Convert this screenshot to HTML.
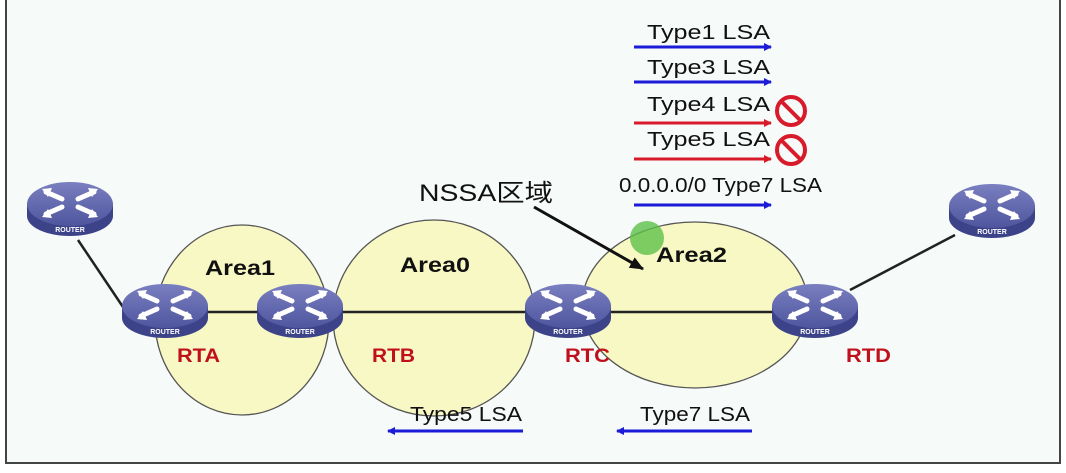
<!DOCTYPE html>
<html><head><meta charset="utf-8"><style>
html,body{margin:0;padding:0;background:#fff;}
svg{display:block;}
text{font-family:"Liberation Sans","Noto Sans CJK SC",sans-serif;}
</style></head><body>
<svg width="1066" height="473" viewBox="0 0 1066 473" xmlns="http://www.w3.org/2000/svg">
<defs>
<linearGradient id="rt" x1="0" y1="0" x2="0" y2="1"><stop offset="0" stop-color="#7a7fc0"/><stop offset="1" stop-color="#4f569e"/></linearGradient>
<marker id="ab" markerWidth="8" markerHeight="8" refX="7" refY="4" orient="auto" markerUnits="userSpaceOnUse"><path d="M0,0 L8,4 L0,8z" fill="#1b1bd8"/></marker>
<marker id="ar" markerWidth="8" markerHeight="8" refX="7" refY="4" orient="auto" markerUnits="userSpaceOnUse"><path d="M0,0 L8,4 L0,8z" fill="#d81b2a"/></marker>
<marker id="ak" markerWidth="14" markerHeight="12" refX="13" refY="6" orient="auto" markerUnits="userSpaceOnUse"><path d="M0,0 L14,6 L0,12z" fill="#111"/></marker>
<g id="router">
<path d="M-43,0 L-43,12 A43,20 0 0 0 43,12 L43,0z" fill="#3c4389"/>
<ellipse cx="0" cy="0" rx="43" ry="22" fill="url(#rt)"/>
<g stroke="#fff" stroke-width="5" fill="none" stroke-linecap="round">
<path d="M-24,-12 L-8,-5"/><path d="M24,-12 L8,-5"/><path d="M-24,10 L-8,3"/><path d="M24,10 L8,3"/>
</g>
<g fill="#fff"><path d="M-28,-15 L-18,-16 L-22,-7z"/><path d="M28,-15 L18,-16 L22,-7z"/><path d="M-28,13 L-18,14 L-22,5z"/><path d="M28,13 L18,14 L22,5z"/></g>
<text x="0" y="28" font-size="7" font-weight="bold" fill="#fff" text-anchor="middle">ROUTER</text>
</g>
</defs>
<rect x="0" y="0" width="1066" height="473" fill="#fff"/>
<rect x="6" y="-5" width="1054" height="468" fill="#f6faf8" stroke="#444" stroke-width="2"/>
<g fill="#f8f8c4" stroke="#555" stroke-width="1.3">
<ellipse cx="242" cy="320" rx="87" ry="95"/>
<ellipse cx="434" cy="318" rx="101" ry="98"/>
<ellipse cx="695" cy="305" rx="113" ry="83"/>
</g>
<g stroke="#222" stroke-width="2.5">
<line x1="78" y1="240" x2="125" y2="310"/>
<line x1="165" y1="312" x2="815" y2="312"/>
<line x1="850" y1="290" x2="955" y2="235"/>
</g>
<use href="#router" x="70" y="204"/>
<use href="#router" x="165" y="306"/>
<use href="#router" x="300" y="306"/>
<use href="#router" x="568" y="306"/>
<use href="#router" x="815" y="306"/>
<use href="#router" x="992" y="206"/>
<g font-weight="bold" font-size="21" fill="#111">
<text x="205" y="275" textLength="70" lengthAdjust="spacingAndGlyphs">Area1</text>
<text x="400" y="272" textLength="70" lengthAdjust="spacingAndGlyphs">Area0</text>
<text x="656" y="262" textLength="71" lengthAdjust="spacingAndGlyphs">Area2</text>
</g>
<g font-weight="bold" font-size="19" fill="#c0101c">
<text x="177" y="362" textLength="43" lengthAdjust="spacingAndGlyphs">RTA</text>
<text x="372" y="362" textLength="43" lengthAdjust="spacingAndGlyphs">RTB</text>
<text x="565" y="362" textLength="45" lengthAdjust="spacingAndGlyphs">RTC</text>
<text x="846" y="362" textLength="45" lengthAdjust="spacingAndGlyphs">RTD</text>
</g>
<circle cx="647" cy="238" r="17" fill="#5cc04a" opacity="0.8"/>
<text x="419" y="201" font-size="24" fill="#111" textLength="134" lengthAdjust="spacingAndGlyphs">NSSA区域</text>
<line x1="534" y1="207" x2="643" y2="269" stroke="#111" stroke-width="3" marker-end="url(#ak)"/>
<g font-size="20" fill="#111">
<text x="647" y="39" textLength="123" lengthAdjust="spacingAndGlyphs">Type1 LSA</text>
<text x="647" y="74" textLength="123" lengthAdjust="spacingAndGlyphs">Type3 LSA</text>
<text x="647" y="111" textLength="123" lengthAdjust="spacingAndGlyphs">Type4 LSA</text>
<text x="647" y="146" textLength="123" lengthAdjust="spacingAndGlyphs">Type5 LSA</text>
<text x="619" y="192" textLength="203" lengthAdjust="spacingAndGlyphs">0.0.0.0/0 Type7 LSA</text>
<text x="410" y="421" textLength="112" lengthAdjust="spacingAndGlyphs">Type5 LSA</text>
<text x="640" y="421" textLength="110" lengthAdjust="spacingAndGlyphs">Type7 LSA</text>
</g>
<g stroke-width="3">
<line x1="634" y1="47" x2="771" y2="47" stroke="#1b1bd8" marker-end="url(#ab)"/>
<line x1="634" y1="82" x2="771" y2="82" stroke="#1b1bd8" marker-end="url(#ab)"/>
<line x1="634" y1="123" x2="771" y2="123" stroke="#d81b2a" marker-end="url(#ar)"/>
<line x1="634" y1="159" x2="771" y2="159" stroke="#d81b2a" marker-end="url(#ar)"/>
<line x1="634" y1="205" x2="771" y2="205" stroke="#1b1bd8" marker-end="url(#ab)"/>
<line x1="523" y1="431" x2="388" y2="431" stroke="#1b1bd8" marker-end="url(#ab)"/>
<line x1="752" y1="431" x2="617" y2="431" stroke="#1b1bd8" marker-end="url(#ab)"/>
</g>
<g fill="none" stroke="#d81b2a" stroke-width="4">
<circle cx="791" cy="111" r="14"/><line x1="782" y1="102" x2="800" y2="120"/>
<circle cx="791" cy="150" r="14"/><line x1="782" y1="141" x2="800" y2="159"/>
</g>
</svg>
</body></html>
